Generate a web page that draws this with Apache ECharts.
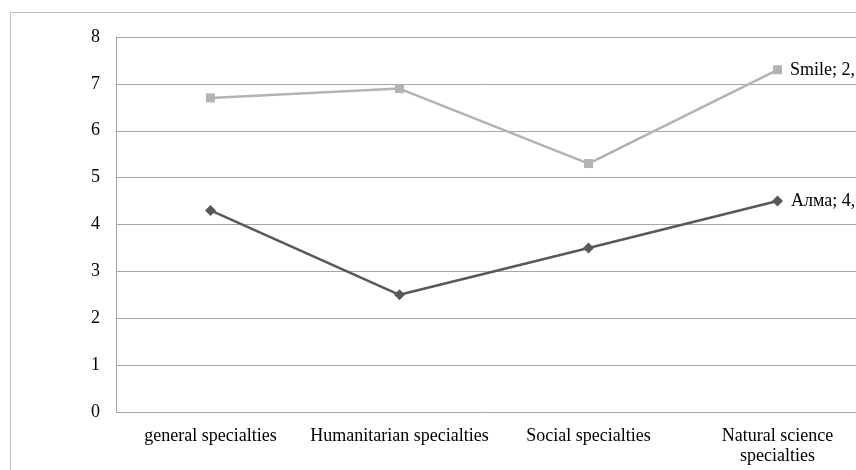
<!DOCTYPE html>
<html>
<head>
<meta charset="utf-8">
<script src="https://cdn.jsdelivr.net/npm/echarts@6/dist/echarts.min.js"></script>
<style>
  html, body { margin: 0; padding: 0; background: #fff; }
  #chart { width: 856px; height: 470px; }
</style>
</head>
<body>
<div id="chart"></div>
<script>
const categories = [
  "general specialties",
  "Humanitarian specialties",
  "Social specialties",
  "Natural science\nspecialties",
];
const seriesNames = ["Алма", "Smile"];
const almaValues = [4.3, 2.5, 3.5, 4.5];
const smileValues = [6.7, 6.9, 5.3, 7.3];
// data labels shown only on the last point (cut off at the right like the original)
const endLabels = ["Алма; 4,", "Smile; 2,"];
const yTicks = { min: 0, max: 8, interval: 1 };

const font = "'Liberation Serif', 'Times New Roman', serif";

function lastLabel(text) {
  return function (p) {
    return p.dataIndex === categories.length - 1 ? text : "";
  };
}

const chart = echarts.init(document.getElementById("chart"));
chart.setOption({
  animation: false,
  backgroundColor: "#fff",
  textStyle: { fontFamily: font },
  graphic: [
    {
      type: "rect",
      shape: { x: 10.5, y: 12.5, width: 900, height: 500 },
      style: { fill: "none", stroke: "#bfbfbf", lineWidth: 1 },
      silent: true,
      z: -1,
    },
  ],
  grid: {
    left: 116,
    top: 37,
    width: 756,
    bottom: 58,
    containLabel: false,
    outerBoundsMode: "none",
  },
  xAxis: {
    type: "category",
    data: categories,
    boundaryGap: true,
    axisLine: { show: false },
    axisTick: { show: false },
    axisLabel: {
      color: "#000",
      fontFamily: font,
      fontSize: 18,
      margin: 14,
      lineHeight: 20,
      interval: 0,
    },
  },
  yAxis: {
    type: "value",
    min: yTicks.min,
    max: yTicks.max,
    interval: yTicks.interval,
    axisLine: { show: true, lineStyle: { color: "#a6a6a6", width: 1 } },
    axisTick: { show: false },
    axisLabel: {
      color: "#000",
      fontFamily: font,
      fontSize: 18,
      margin: 16,
    },
    splitLine: { show: true, lineStyle: { color: "#a6a6a6", width: 1 } },
  },
  series: [
    {
      name: seriesNames[0],
      type: "line",
      data: almaValues,
      symbol: "diamond",
      symbolSize: 11,
      lineStyle: { color: "#595959", width: 2.5 },
      itemStyle: { color: "#595959" },
      label: {
        show: true,
        position: "right",
        distance: 8,
        color: "#000",
        fontFamily: font,
        fontSize: 18,
        formatter: lastLabel(endLabels[0]),
      },
    },
    {
      name: seriesNames[1],
      type: "line",
      data: smileValues,
      symbol: "rect",
      symbolSize: 9,
      lineStyle: { color: "#b3b3b3", width: 2.5 },
      itemStyle: { color: "#b3b3b3" },
      label: {
        show: true,
        position: "right",
        distance: 8,
        color: "#000",
        fontFamily: font,
        fontSize: 18,
        formatter: lastLabel(endLabels[1]),
      },
    },
  ],
});
</script>
</body>
</html>
